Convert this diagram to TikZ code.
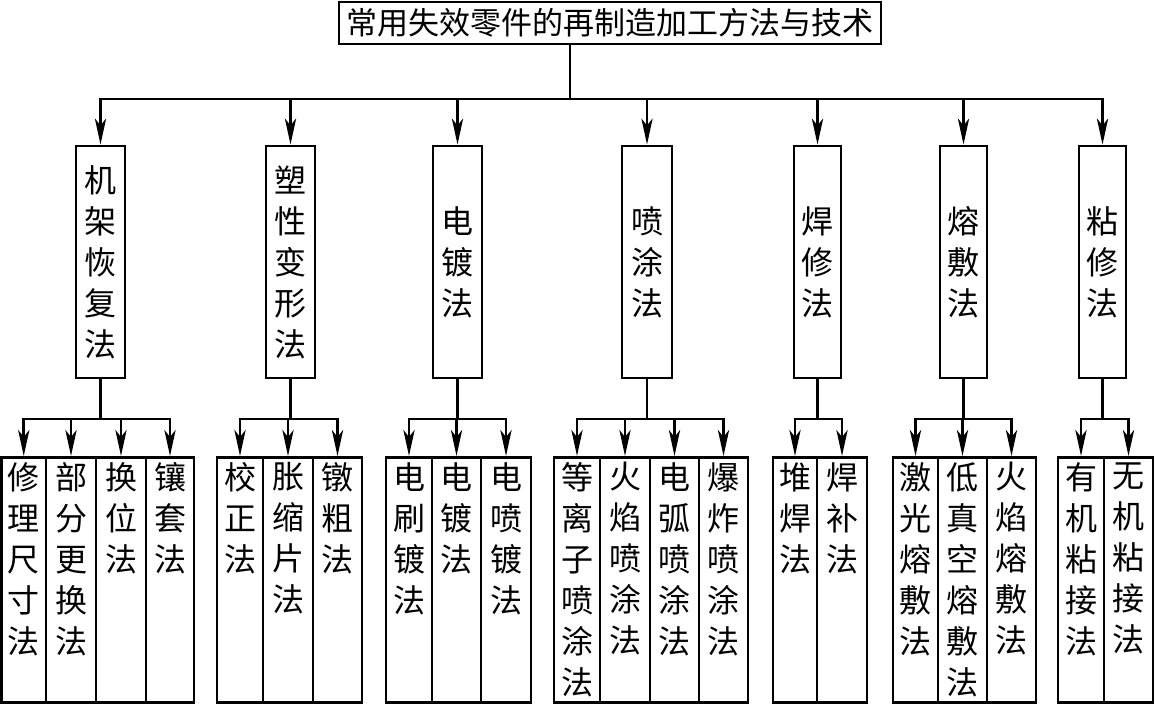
\documentclass[tikz,border=0pt]{standalone}
\usepackage{fontspec}
\newfontfamily\cjk{Noto Sans CJK SC}
\usetikzlibrary{arrows.meta}
\newcommand\subcol[4]{%
  \node[box, minimum width={(#3-#2)*0.5pt}, minimum height=122.5pt, anchor=north] (#1) at ({(#2+#3)/2},456) {};
  \node[vtext, anchor=north] (#1t) at ([yshift=-2.5pt]#1.north) {#4};
}
\begin{document}
\begin{tikzpicture}[x=0.5pt,y=-0.5pt,
  line width=1.45pt,
  arr/.style={-{Stealth[length=13pt,width=5.6pt,inset=3.5pt]}},
  box/.style={draw, rectangle, inner sep=0pt},
  vtext/.style={font=\cjk\fontsize{16}{20.5}\selectfont, align=center, inner sep=0pt},
]
\useasboundingbox (0,0) rectangle (1155,703);

% title
\node[box, font=\cjk\fontsize{15.5}{18}\selectfont, minimum width=271pt, minimum height=21pt] (title) at (610,23) {常用失效零件的再制造加工方法与技术};

% level 2
\node[box, vtext, minimum width=24.5pt, minimum height=116pt] (b1) at (100.5,262) {机\\架\\恢\\复\\法};
\node[box, vtext, minimum width=24.5pt, minimum height=116pt] (b2) at (290.5,262) {塑\\性\\变\\形\\法};
\node[box, vtext, minimum width=24.5pt, minimum height=116pt] (b3) at (457.5,262) {电\\镀\\法};
\node[box, vtext, minimum width=25pt, minimum height=116pt] (b4) at (647,262) {喷\\涂\\法};
\node[box, vtext, minimum width=23.5pt, minimum height=116pt] (b5) at (817.5,262) {焊\\修\\法};
\node[box, vtext, minimum width=23.5pt, minimum height=116pt] (b6) at (963.5,262) {熔\\敷\\法};
\node[box, vtext, minimum width=23.5pt, minimum height=116pt] (b7) at (1102.5,262) {粘\\修\\法};

% main bus
\coordinate (bus) at (570,99);
\draw (title.south -| bus) -- (bus);
\draw[arr] (bus) -| (b1.north);
\draw[arr] (bus) -| (b7.north);
\foreach \b in {b2,b3,b4,b5,b6} \draw[arr] (\b.north |- bus) -- (\b.north);

% level 3 columns
\subcol{c11}{1.5}{46}{修\\理\\尺\\寸\\法}
\subcol{c12}{46}{96}{部\\分\\更\\换\\法}
\subcol{c13}{96}{146}{换\\位\\法}
\subcol{c14}{146}{194}{镶\\套\\法}

\subcol{c21}{217}{263}{校\\正\\法}
\subcol{c22}{263}{313}{胀\\缩\\片\\法}
\subcol{c23}{313}{362}{镦\\粗\\法}

\subcol{c31}{386}{432}{电\\刷\\镀\\法}
\subcol{c32}{432}{481}{电\\镀\\法}
\subcol{c33}{481}{531}{电\\喷\\镀\\法}

\subcol{c41}{554}{600}{等\\离\\子\\喷\\涂\\法}
\subcol{c42}{600}{650}{火\\焰\\喷\\涂\\法}
\subcol{c43}{650}{699}{电\\弧\\喷\\涂\\法}
\subcol{c44}{699}{748}{爆\\炸\\喷\\涂\\法}

\subcol{c51}{773}{817}{堆\\焊\\法}
\subcol{c52}{817}{867}{焊\\补\\法}

\subcol{c61}{893}{938}{激\\光\\熔\\敷\\法}
\subcol{c62}{938}{987}{低\\真\\空\\熔\\敷\\法}
\subcol{c63}{987}{1036}{火\\焰\\熔\\敷\\法}

\subcol{c71}{1058}{1104}{有\\机\\粘\\接\\法}
\subcol{c72}{1104}{1153}{无\\机\\粘\\接\\法}

% sub buses
\foreach \g/\first/\last/\mids in {1/c11/c14/{c12,c13}, 2/c21/c23/{c22}, 3/c31/c33/{c32}, 4/c41/c44/{c42,c43}, 5/c51/c52/{}, 6/c61/c63/{c62}, 7/c71/c72/{}}{
  \coordinate (s\g) at (b\g.south |- 0,419);
  \draw (b\g.south) -- (s\g);
  \draw[arr] (s\g) -| (\first.north);
  \draw[arr] (s\g) -| (\last.north);
  \foreach \m in \mids { \draw[arr] (\m.north |- s\g) -- (\m.north); }
}
\end{tikzpicture}
\end{document}
